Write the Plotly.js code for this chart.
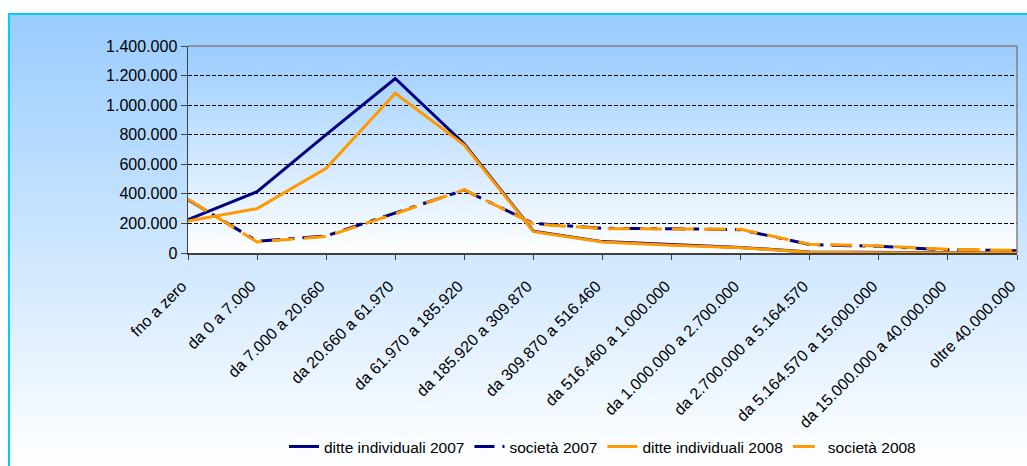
<!DOCTYPE html>
<html>
<head>
<meta charset="utf-8">
<script src="https://cdn.plot.ly/plotly-3.0.1.min.js"></script>
<style>
  html, body { margin: 0; padding: 0; width: 1027px; height: 466px; overflow: hidden; background: #ffffff; }
  #frame { position: absolute; left: 8px; top: 13px; width: 1100px; height: 453px;
           border-left: 2px solid #00CCFF; border-top: 2px solid #00CCFF;
           background: linear-gradient(to bottom, #99CCFF 0%, #ffffff 100%); }
  #chart { position: absolute; left: 0; top: 0; width: 1027px; height: 466px; }
</style>
</head>
<body>
<div id="frame"></div>
<div id="chart"></div>
<script>
const categories = [
  "fno a zero", "da 0 a 7.000", "da 7.000 a 20.660", "da 20.660 a 61.970",
  "da 61.970 a 185.920", "da 185.920 a 309.870", "da 309.870 a 516.460",
  "da 516.460 a 1.000.000", "da 1.000.000 a 2.700.000", "da 2.700.000 a 5.164.570",
  "da 5.164.570 a 15.000.000", "da 15.000.000 a 40.000.000", "oltre 40.000.000"
];
const ditteIndividuali2007 = [225000, 415000, 800000, 1180000, 737000, 148000, 77000, 55000, 38000, 6000, 2500, 1200, 600];
const societa2007          = [360000, 80000, 115000, 268000, 426000, 200000, 167000, 164000, 158000, 57000, 45000, 22000, 16000];
const ditteIndividuali2008 = [216000, 300000, 573000, 1080000, 730000, 144000, 74000, 52000, 36000, 5000, 2000, 1000, 500];
const societa2008          = [363000, 75000, 112000, 265000, 428000, 196000, 165000, 162000, 160000, 59000, 47000, 25000, 18000];
const seriesNames = ["ditte individuali 2007", "società 2007", "ditte individuali 2008", "società 2008"];
const yTicks = [0, 200000, 400000, 600000, 800000, 1000000, 1200000, 1400000];

const NAVY = "#000080", ORANGE = "#FF9900";
const font = "Liberation Sans, Arial, sans-serif";

const traces = [
  {x: categories, y: ditteIndividuali2007, name: seriesNames[0], mode: "lines",
   line: {color: NAVY, width: 3}},
  {x: categories, y: societa2007, name: seriesNames[1], mode: "lines",
   line: {color: NAVY, width: 3, dash: "20px,8px,6px,8px"}},
  {x: categories, y: ditteIndividuali2008, name: seriesNames[2], mode: "lines",
   line: {color: ORANGE, width: 3}},
  {x: categories, y: societa2008, name: seriesNames[3], mode: "lines",
   line: {color: ORANGE, width: 3, dash: "22px,10px"}}
];

const gradSvg = "data:image/svg+xml;utf8," + encodeURIComponent(
  "<svg xmlns='http://www.w3.org/2000/svg' width='100' height='100' preserveAspectRatio='none'>" +
  "<defs><linearGradient id='g' x1='0' y1='0' x2='0' y2='1'>" +
  "<stop offset='0' stop-color='#99CCFF'/><stop offset='1' stop-color='#ffffff'/>" +
  "</linearGradient></defs><rect width='100' height='100' fill='url(#g)'/></svg>");

const layout = {
  width: 1027, height: 466,
  margin: {l: 188, r: 10, t: 46, b: 213},
  paper_bgcolor: "rgba(0,0,0,0)",
  plot_bgcolor: "rgba(0,0,0,0)",
  separators: ",.",
  font: {family: font, size: 16, color: "#000000"},
  showlegend: true,
  legend: {
    orientation: "h", x: 0.5, xanchor: "center",
    yref: "container", y: 0.041, yanchor: "middle",
    font: {family: font, size: 15.5, color: "#000000"},
    bgcolor: "rgba(0,0,0,0)", itemwidth: 30, traceorder: "normal"
  },
  xaxis: {
    type: "category", range: [0, 12], tickangle: -45,
    showgrid: false, zeroline: false,
    showline: true, linecolor: "#404040", linewidth: 1.5,
    ticks: "outside", ticklen: 5, tickcolor: "#404040",
    ticklabelstandoff: 11, ticklabelshift: -6,
    tickfont: {family: font, size: 16, color: "#000000"},
    fixedrange: true
  },
  yaxis: {
    range: [0, 1400000], tickvals: yTicks, tickformat: ",d",
    showgrid: true, gridcolor: "#000000", gridwidth: 1, griddash: "4px,2px",
    zeroline: false,
    showline: true, linecolor: "#404040", linewidth: 1.5,
    ticks: "outside", ticklen: 6, tickcolor: "#404040",
    tickfont: {family: font, size: 16, color: "#000000"},
    fixedrange: true
  },
  images: [{
    source: gradSvg, xref: "paper", yref: "paper",
    x: 0, y: 1, sizex: 1, sizey: 1, sizing: "stretch",
    xanchor: "left", yanchor: "top", layer: "below"
  }],
  shapes: [
    {type: "line", xref: "paper", yref: "paper", x0: 0, x1: 1, y0: 1, y1: 1,
     line: {color: "#808080", width: 1.5}},
    {type: "line", xref: "paper", yref: "paper", x0: 1, x1: 1, y0: 0, y1: 1,
     line: {color: "#808080", width: 1.5}}
  ]
};

Plotly.newPlot("chart", traces, layout, {displayModeBar: false, staticPlot: true});
</script>
</body>
</html>
